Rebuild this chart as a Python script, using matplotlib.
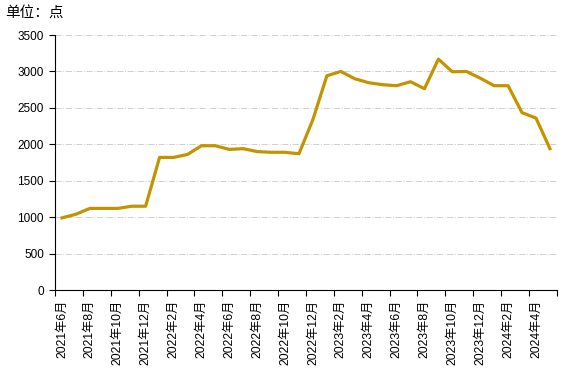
import matplotlib
matplotlib.use("Agg")
import matplotlib.pyplot as plt
import numpy as np

plt.rcParams['font.family'] = ['Liberation Sans', 'Noto Sans CJK SC', 'DejaVu Sans']

# monthly index values, 2021-06 .. 2024-05
months = []
for y in range(2021, 2025):
    for m in range(1, 13):
        if (y, m) >= (2021, 6) and (y, m) <= (2024, 5):
            months.append(f"{y}年{m}月")

values = [990, 1040, 1120, 1120, 1120, 1150, 1150, 1820, 1820, 1860,
          1980, 1980, 1930, 1940, 1900, 1890, 1890, 1870, 2340, 2940,
          3000, 2900, 2845, 2818, 2804, 2859, 2763, 3169, 2995, 3000,
          2908, 2804, 2804, 2434, 2360, 1941]

y_ticks = [0, 500, 1000, 1500, 2000, 2500, 3000, 3500]

fig = plt.figure(figsize=(5.7, 3.7), dpi=100)
ax = fig.add_axes([0.0965, 0.2162, 0.8805, 0.6892])

x = np.arange(len(values))
ax.plot(x, values, color='#C39300', lw=2.3, solid_joinstyle='round')

ax.set_xlim(-0.5, len(values) - 0.5)
ax.set_ylim(0, 3500)
ax.set_yticks(y_ticks)
ax.set_yticklabels([str(v) for v in y_ticks], fontsize=8.5)

# boundary ticks every two months, labels on category centres
ax.set_xticks(np.arange(-0.5, len(values), 2))
ax.set_xticklabels([])
ax.set_xticks(x[::2], minor=True)
ax.set_xticklabels(months[::2], minor=True, rotation=90, fontsize=8.8)
ax.tick_params(axis='x', which='major', length=4, width=0.8, direction='out')
ax.tick_params(axis='x', which='minor', length=0, pad=7)
ax.tick_params(axis='y', length=4, width=0.8, pad=4)

ax.grid(axis='y', color='#D0D0D0', linestyle='-.', linewidth=0.7)
ax.set_axisbelow(True)
for s in ['top', 'right']:
    ax.spines[s].set_visible(False)
for s in ['left', 'bottom']:
    ax.spines[s].set_linewidth(0.8)

fig.text(0.009, 0.962, "单位：点", fontsize=10.5, va='center', ha='left')

fig.savefig("out.png", dpi=100)
